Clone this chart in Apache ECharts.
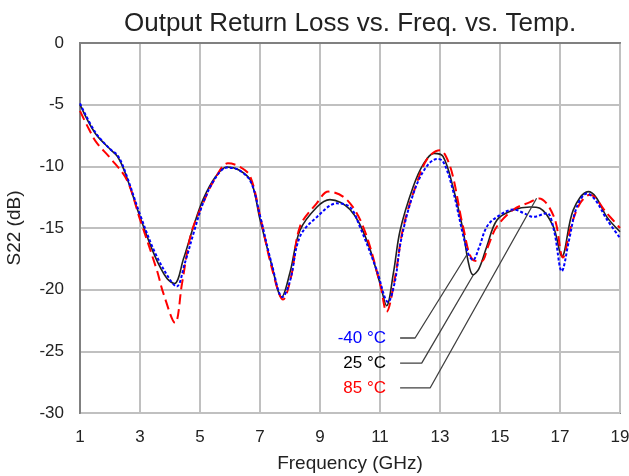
<!DOCTYPE html>
<html>
<head>
<meta charset="utf-8">
<script src="https://cdn.jsdelivr.net/npm/echarts@6/dist/echarts.min.js"></script>
<style>
html,body{margin:0;padding:0;background:#fff;}
#chart{width:629px;height:476px;}
</style>
</head>
<body>
<div id="chart"></div>
<script>
// ---- data (frequency GHz, S22 dB) ----
var xTicks = [1, 3, 5, 7, 9, 11, 13, 15, 17, 19];
var yTicks = [0, -5, -10, -15, -20, -25, -30];

var s25 = [[1,-5],[1.5,-7.3],[2,-8.6],[2.25,-9.2],[2.5,-10.5],[3,-14.1],[3.5,-17.3],[3.9,-19.1],[4.15,-19.5],[4.45,-17.5],[4.78,-14.9],[5.1,-12.7],[5.5,-10.9],[5.9,-10.05],[6.3,-10.3],[6.7,-11.2],[7,-14.3],[7.4,-18.1],[7.72,-20.6],[8,-18.6],[8.33,-15.2],[8.9,-13.3],[9.33,-12.7],[10,-13.5],[10.56,-16],[11,-19.5],[11.22,-21.3],[11.45,-18.6],[11.67,-15.2],[12.1,-11.7],[12.45,-9.8],[12.8,-8.95],[13.1,-9.2],[13.43,-11.65],[13.77,-15.2],[13.93,-17.6],[14.1,-18.8],[14.3,-18.3],[14.56,-16.5],[14.9,-14.35],[15.44,-13.55],[16,-13.3],[16.33,-13.4],[16.78,-14.9],[17.06,-17.3],[17.44,-13.55],[17.94,-12.05],[18.2,-12.5],[18.56,-14.1],[19,-15.3]];

var sM40 = [[1,-4.9],[1.5,-7.2],[2,-8.6],[2.25,-9.1],[2.5,-10.4],[3,-13.9],[3.5,-17],[4,-19.2],[4.22,-19.75],[4.5,-17.8],[4.8,-15.3],[5.1,-13],[5.5,-11],[5.9,-10.1],[6.3,-10.3],[6.7,-11.3],[7,-14],[7.4,-18],[7.75,-20.6],[8,-19.3],[8.33,-15.7],[8.9,-14.1],[9.56,-13],[10,-13.3],[10.33,-14.9],[10.89,-18.4],[11.27,-21],[11.5,-19.3],[11.7,-16],[12.1,-12.3],[12.5,-10.2],[12.9,-9.4],[13.1,-9.6],[13.4,-11.65],[13.9,-16.8],[14.1,-17.6],[14.3,-16.6],[14.56,-14.9],[14.9,-14.1],[15.45,-13.5],[15.8,-13.8],[16.1,-14.1],[16.56,-13.8],[16.8,-15.2],[17.06,-18.5],[17.3,-16],[17.56,-13.3],[17.9,-12.2],[18.2,-12.8],[18.56,-14.3],[19,-15.8]];

var s85 = [[1,-5.5],[1.3,-7],[1.56,-8.1],[2,-9.3],[2.56,-11.1],[3,-14.3],[3.56,-18.4],[3.78,-20.3],[4.17,-22.7],[4.4,-19.5],[4.7,-15.5],[5.1,-13],[5.5,-11],[5.93,-9.75],[6.3,-10],[6.67,-10.8],[7,-14],[7.4,-18.3],[7.77,-20.8],[8.05,-18.8],[8.33,-14.9],[8.89,-13],[9.28,-12.05],[9.89,-12.7],[10.44,-14.9],[11,-19.5],[11.22,-21.8],[11.5,-19],[11.78,-14.9],[12.22,-11.4],[12.6,-9.3],[13.0,-8.7],[13.2,-9.2],[13.43,-10.8],[13.77,-14.9],[14.1,-17.6],[14.39,-17.7],[14.6,-16.5],[14.89,-14.9],[15.45,-13.5],[16,-12.9],[16.3,-12.6],[16.8,-14.1],[17.1,-17.4],[17.35,-15],[17.67,-13],[18,-12.3],[18.56,-13.8],[19,-15]];

// callout leader lines (data coordinates): label point, elbow, target on curve
var calloutNames = ['-40 °C', '25 °C', '85 °C'];
var calloutColors = ['#0000ff', '#000000', '#ff0000'];
var leaderM40 = [[11.67,-23.92],[12.17,-23.92],[13.89,-17.19]];
var leader25  = [[11.67,-25.95],[12.39,-25.95],[14.11,-18.81]];
var leader85  = [[11.67,-27.97],[12.67,-27.97],[16.22,-12.59]];

var FONT = '"Liberation Sans", Arial, sans-serif';

function leaderSeries(pts, name, color) {
  return {
    type: 'line',
    silent: true,
    smooth: false,
    symbol: 'circle',
    symbolSize: 0.1,
    showSymbol: true,
    itemStyle: { color: 'rgba(0,0,0,0)' },
    lineStyle: { color: '#404040', width: 1.3 },
    z: 5,
    data: pts.map(function (p, i) {
      var d = { value: p };
      if (i === 0) {
        d.label = {
          show: true, position: 'left', distance: 14,
          formatter: name, color: color,
          fontSize: 17, fontFamily: FONT
        };
      }
      return d;
    })
  };
}

var chart = echarts.init(document.getElementById('chart'));
chart.setOption({
  animation: false,
  backgroundColor: '#ffffff',
  title: {
    text: 'Output Return Loss vs. Freq. vs. Temp.',
    left: 119, top: 6,
    textStyle: { fontSize: 26, fontWeight: 'normal', color: '#222', fontFamily: FONT }
  },
  grid: {
    left: 80, right: 9, top: 43, bottom: 63,
    outerBoundsMode: 'none',
    containLabel: false,
    show: true, borderColor: '#808080', borderWidth: 2, backgroundColor: '#fff'
  },
  xAxis: {
    type: 'value', min: xTicks[0], max: xTicks[xTicks.length - 1], interval: 2,
    name: 'Frequency (GHz)', nameLocation: 'middle', nameGap: 41,
    nameTextStyle: { fontSize: 19, color: '#222', fontFamily: FONT },
    axisLine: { show: true, lineStyle: { color: '#808080', width: 2 } },
    axisTick: { show: false },
    axisLabel: { fontSize: 17, color: '#222', fontFamily: FONT, margin: 16 },
    splitLine: { show: true, lineStyle: { color: '#c0c0c0', width: 2 } }
  },
  yAxis: {
    type: 'value', min: yTicks[yTicks.length - 1], max: yTicks[0], interval: 5,
    name: 'S22 (dB)', nameLocation: 'middle', nameGap: 56,
    nameTextStyle: { fontSize: 19, color: '#222', fontFamily: FONT },
    axisLine: { show: true, lineStyle: { color: '#808080', width: 2 } },
    axisTick: { show: false },
    axisLabel: { fontSize: 17, color: '#222', fontFamily: FONT, margin: 16 },
    splitLine: { show: true, lineStyle: { color: '#c0c0c0', width: 2 } }
  },
  series: [
    { name: '25 °C', type: 'line', data: s25, smooth: 0.35, showSymbol: false,
      lineStyle: { color: '#202020', width: 1.6 }, z: 3 },
    { name: '85 °C', type: 'line', data: s85, smooth: 0.35, showSymbol: false,
      lineStyle: { color: '#ff0000', width: 2, type: [10, 5] }, z: 3 },
    { name: '-40 °C', type: 'line', data: sM40, smooth: 0.35, showSymbol: false,
      lineStyle: { color: '#0000ff', width: 2, type: [3, 2] }, z: 3 },
    leaderSeries(leaderM40, calloutNames[0], calloutColors[0]),
    leaderSeries(leader25, calloutNames[1], calloutColors[1]),
    leaderSeries(leader85, calloutNames[2], calloutColors[2])
  ]
});
</script>
</body>
</html>
